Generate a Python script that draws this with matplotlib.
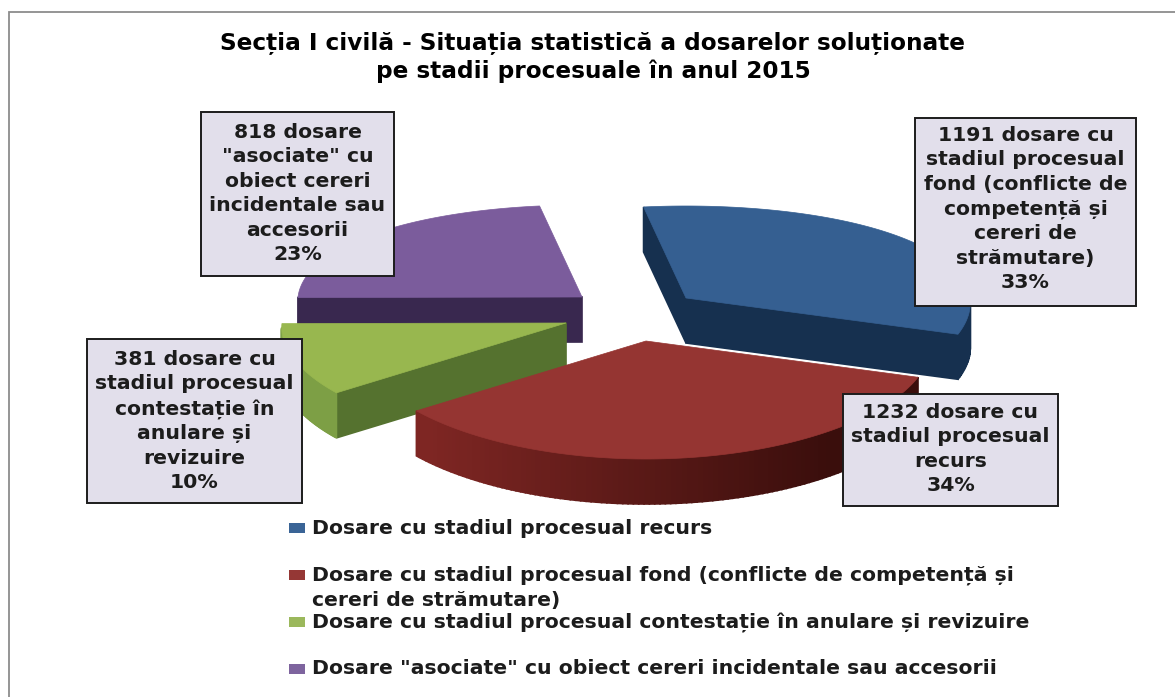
import numpy as np
import matplotlib
matplotlib.use('Agg')
import matplotlib.pyplot as plt
from matplotlib.colors import to_rgb
from matplotlib.patches import Polygon, Rectangle

title = 'Secția I civilă - Situația statistică a dosarelor soluționate\npe stadii procesuale în anul 2015'

# values in the order the slices go round, clockwise
values = [1191, 1232, 381, 818]
label_texts = [
    '1191 dosare cu\nstadiul procesual\nfond (conflicte de\ncompetență și\ncereri de\nstrămutare)\n33%',
    '1232 dosare cu\nstadiul procesual\nrecurs\n34%',
    '381 dosare cu\nstadiul procesual\ncontestație în\nanulare și\nrevizuire\n10%',
    '818 dosare\n"asociate" cu\nobiect cereri\nincidentale sau\naccesorii\n23%',
]
legend_texts = [
    'Dosare cu stadiul procesual recurs',
    'Dosare cu stadiul procesual fond (conflicte de competență și\ncereri de strămutare)',
    'Dosare cu stadiul procesual contestație în anulare și revizuire',
    'Dosare "asociate" cu obiect cereri incidentale sau accesorii',
]

top_colors = ['#355f91', '#953532', '#98b74f', '#7b5c9c']
cut_colors = ['#16304f', '#5a1a18', '#55722f', '#39284f']
rim_colors = ['#16304f', '#7e2623', '#7d9f45', '#39284f']
legend_colors = ['#3a6496', '#953735', '#9bb85c', '#7e649e']

# layout, in pixels of the picture
apex = [(686, 298), (646, 341), (566, 323), (582, 297)]
boxes = [(915, 118, 1136, 306), (843, 394, 1058, 506), (87, 339, 302, 503), (201, 112, 394, 276)]
label_y = [209, 449, 421, 193.5]
legend_y = [528, 575, 622, 669]
depth = 45
start_angle = 99


def rim_point(cx, cy, deg):
    # the pie is tilted, so the near half comes out a bit bigger
    t = np.radians(deg)
    a = 284 - 13 * np.sin(t)
    b = 105 - 13 * np.sin(t)
    return cx + a * np.cos(t), cy - b * np.sin(t)


fig = plt.figure(figsize=(11.75, 6.97), dpi=100)
ax = fig.add_axes([0, 0, 1, 1])
ax.set_xlim(0, 1175)
ax.set_ylim(697, 0)
ax.axis('off')

ax.add_patch(Rectangle((8.5, 11.5), 1180, 700, fc='white', ec='#8c8c8c', lw=1.3))

angles = [start_angle]
for v in values:
    angles.append(angles[-1] - v / sum(values) * 360)

# purple and blue lie behind the other two
for i in [3, 0, 2, 1]:
    cx, cy = apex[i]
    arc = np.linspace(angles[i], angles[i + 1], 120)
    rim = [rim_point(cx, cy, a) for a in arc]
    pts = [(cx, cy)] + rim + [(cx, cy)]
    for k in range(len(pts) - 1):
        (x0, y0), (x1, y1) = pts[k], pts[k + 1]
        if x1 >= x0:
            continue
        if k == 0 or k == len(pts) - 2:
            c = cut_colors[i]
        elif i == 1:
            # red wall gets darker to the right
            f = np.clip((x0 - 430) / 400, 0, 1)
            c = np.array(to_rgb('#7e2623')) * (1 - f) + np.array(to_rgb('#3a0e0c')) * f
        else:
            c = rim_colors[i]
        ax.add_patch(Polygon([(x0, y0), (x1, y1), (x1, y1 + depth), (x0, y0 + depth)], fc=c, ec=c, lw=1.2))
    ax.add_patch(Polygon(pts[:-1], fc=top_colors[i], ec=top_colors[i], lw=0.5))

for i in range(4):
    x0, y0, x1, y1 = boxes[i]
    ax.add_patch(Rectangle((x0, y0), x1 - x0, y1 - y0, fc='#e2dfeb', ec='#1c1c1c', lw=1.4))
    ax.text((x0 + x1) / 2, label_y[i], label_texts[i], ha='center', va='center',
            fontsize=14.7, fontweight='bold', color='#1c1c1c', linespacing=1.36)

ax.text(593, 57, title, ha='center', va='center', fontsize=16.7, fontweight='bold', color='black', linespacing=1.3)

for i in range(4):
    ax.add_patch(Rectangle((289, legend_y[i] - 5), 16, 10, fc=legend_colors[i], ec='none'))
    ax.text(312, legend_y[i] - 9.5, legend_texts[i], ha='left', va='top', fontsize=14.7, fontweight='bold',
            color='#1c1c1c', linespacing=1.38)

fig.savefig('out.png', dpi=100)
